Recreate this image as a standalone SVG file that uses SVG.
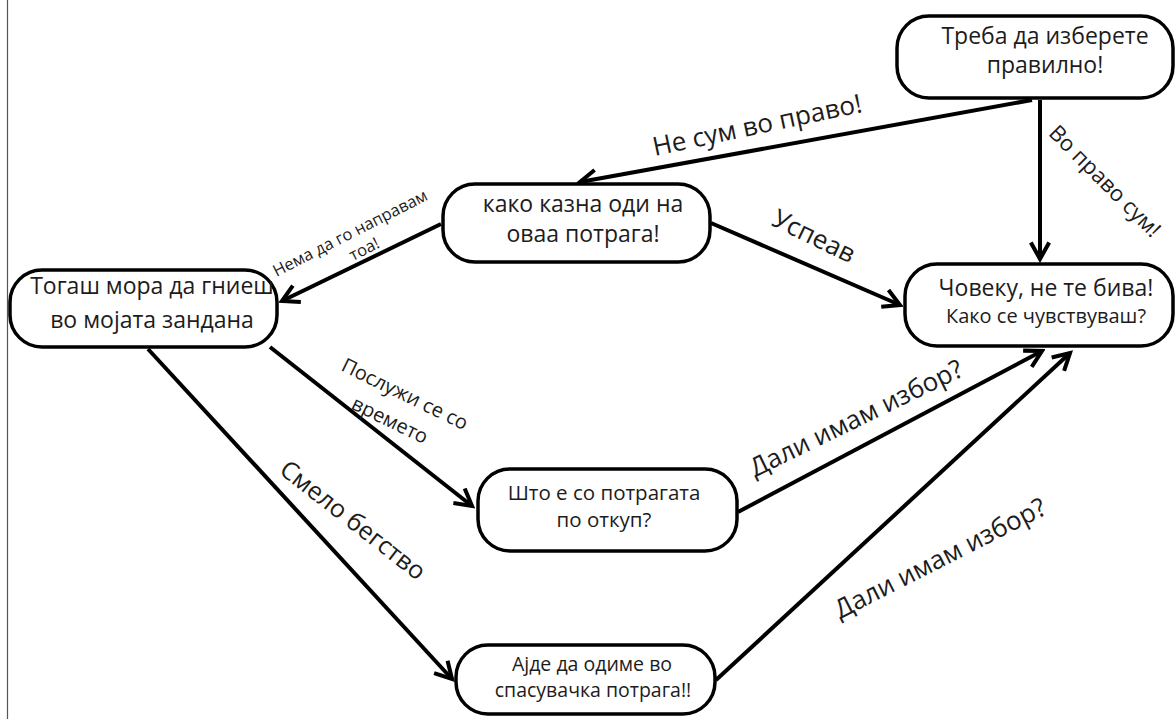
<svg xmlns="http://www.w3.org/2000/svg" width="1176" height="719" viewBox="0 0 1176 719">
<style>
.box{fill:#fff;stroke:#000;stroke-width:3.5}
.t{font-family:"Open Sans","Noto Sans",sans-serif;fill:#1c1c1c;text-anchor:middle}
.l{font-family:"Open Sans","Noto Sans",sans-serif;fill:#1c1c1c;text-anchor:middle}
.c{fill:none;stroke:#000;stroke-width:4;marker-end:url(#ah)}
</style>
<defs>
<marker id="ah" viewBox="0 0 12 12" refX="10" refY="6" markerWidth="5.5" markerHeight="5.5" markerUnits="strokeWidth" orient="auto">
<path d="M1,1 L10,6 L1,11" fill="none" stroke="#000" stroke-width="2.2"/>
</marker>
</defs>
<rect width="1176" height="719" fill="#fff"/>
<line x1="7.5" y1="0" x2="7.5" y2="719" stroke="#555" stroke-width="1.2"/>
<g id="connectors">
<path class="c" d="M1032,100 L580,182"/>
<path class="c" d="M1040,100 L1040,259"/>
<path class="c" d="M711,223 L900,305"/>
<path class="c" d="M441,224 L282,301"/>
<path class="c" d="M270,347 L472,506"/>
<path class="c" d="M148,349 L452,679"/>
<path class="c" d="M738,512 L1042,351"/>
<path class="c" d="M716,680 L1070,353"/>
<text class="l" font-size="26" dy="0.35em" transform="translate(757,125) rotate(-12)">Не сум во право!</text>
<text class="l" font-size="22" dy="0.35em" transform="translate(1105,181) rotate(45)">Во право сум!</text>
<text class="l" font-size="26" dy="0.35em" transform="translate(814,236) rotate(26)">Успеав</text>
<text class="l" font-size="16.5" dy="0.35em" transform="translate(350,233) rotate(-27)">Нема да го направам</text>
<text class="l" font-size="16.5" dy="0.35em" transform="translate(364,249) rotate(-27)">тоа!</text>
<text class="l" font-size="20" dy="0.35em" transform="translate(405,394) rotate(26)">Послужи се со</text>
<text class="l" font-size="20" dy="0.35em" transform="translate(390,420) rotate(26)">времето</text>
<text class="l" font-size="25" dy="0.35em" transform="translate(353,520) rotate(38)">Смело бегство</text>
<text class="l" font-size="26" dy="0.35em" transform="translate(856,418) rotate(-26)">Дали имам избор?</text>
<text class="l" font-size="26" dy="0.35em" transform="translate(940,558) rotate(-27)">Дали имам избор?</text>
</g>
<g id="n1"><rect class="box" x="897" y="16" width="276" height="82" rx="32"/>
<text class="t" font-size="23" x="1045" y="44">Треба да изберете</text>
<text class="t" font-size="23" x="1045" y="73">правилно!</text></g>
<g id="n2"><rect class="box" x="443" y="184" width="267" height="78" rx="32"/>
<text class="t" font-size="23" x="583" y="212">како казна оди на</text>
<text class="t" font-size="23" x="583" y="242">оваа потрага!</text></g>
<g id="n3"><rect class="box" x="10" y="270" width="267" height="77" rx="32"/>
<text class="t" font-size="23" x="152" y="294">Тогаш мора да гниеш</text>
<text class="t" font-size="23" x="152" y="328">во мојата зандана</text></g>
<g id="n4"><rect class="box" x="905" y="264" width="268" height="82" rx="32"/>
<text class="t" font-size="23" x="1046" y="296">Човеку, не те бива!</text>
<text class="t" font-size="20" x="1046" y="323">Како се чувствуваш?</text></g>
<g id="n5"><rect class="box" x="478" y="469" width="259" height="82" rx="32"/>
<text class="t" font-size="20.5" x="604" y="500">Што е со потрагата</text>
<text class="t" font-size="20.5" x="604" y="527">по откуп?</text></g>
<g id="n6"><rect class="box" x="456" y="645" width="259" height="69" rx="32"/>
<text class="t" font-size="19.5" x="592" y="671">Ајде да одиме во</text>
<text class="t" font-size="19.5" x="593" y="697">спасувачка потрага!!</text></g>
</svg>
